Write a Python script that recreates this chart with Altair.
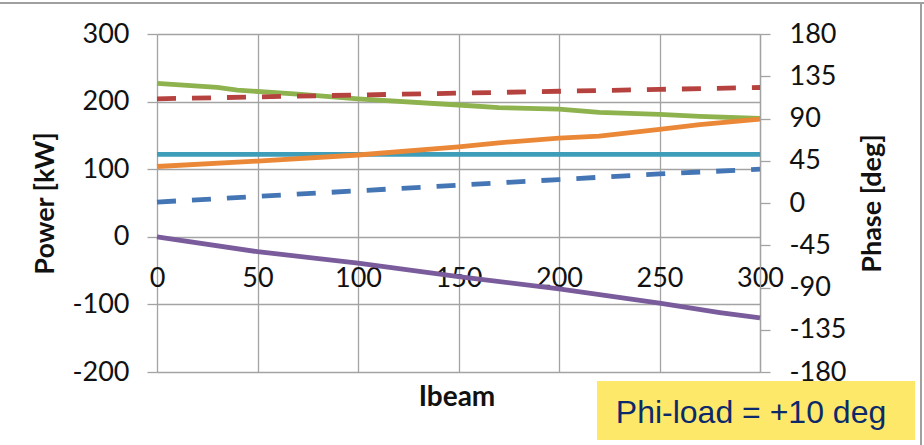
import altair as alt
import pandas as pd

# ---- data ----
ibeam_green = [0, 30, 40, 70, 100, 150, 170, 200, 220, 250, 270, 300]
power_green = [227, 221, 217, 211, 204, 195, 191, 189, 184, 181, 178, 175]

ibeam_orange = [0, 50, 100, 150, 170, 200, 220, 250, 270, 300]
power_orange = [104, 112, 121, 133, 139, 146, 149, 159, 166, 174]

ibeam_cyan = [0, 100, 200, 300]
power_cyan = [122, 122, 122, 122]

ibeam_purple = [0, 50, 100, 150, 200, 250, 280, 300]
power_purple = [0, -22, -39, -59, -77, -98, -112, -120]

ibeam_phase = [0, 50, 100, 150, 200, 250, 300]
phase_red = [111, 113, 115, 117, 119, 121, 123]
phase_blue = [1, 7, 13, 19, 25, 31, 36]

left_ticks = [-200, -100, 0, 100, 200, 300]
right_ticks = [-180, -135, -90, -45, 0, 45, 90, 135, 180]
x_ticks = [0, 50, 100, 150, 200, 250, 300]

series_names = ["P green", "P cyan", "P orange", "P purple", "Phi red", "Phi blue"]
series_colors = ["#8DB24E", "#3E9DB8", "#EA8838", "#7A5C9C", "#B5423E", "#4475B4"]

# ---- tables ----
rows = []
for name, xs, ys in [("P green", ibeam_green, power_green),
                     ("P cyan", ibeam_cyan, power_cyan),
                     ("P orange", ibeam_orange, power_orange),
                     ("P purple", ibeam_purple, power_purple)]:
    for i, (a, b) in enumerate(zip(xs, ys)):
        rows.append({"series": name, "Ibeam": a, "Power": b, "order": i})
power_df = pd.DataFrame(rows)

rows = []
for name, ys in [("Phi red", phase_red), ("Phi blue", phase_blue)]:
    for i, (a, b) in enumerate(zip(ibeam_phase, ys)):
        rows.append({"series": name, "Ibeam": a, "Phase": b, "order": i})
phase_df = pd.DataFrame(rows)

one = pd.DataFrame({"k": [0]})

FONT = "Lato"
GRID = "#A3A3A3"
LABEL_EXPR = "'' + datum.value"
color_scale = alt.Scale(domain=series_names, range=series_colors)

xscale = alt.Scale(domain=[0, 300], nice=False)
xaxis = alt.Axis(values=x_ticks, title=None, offset=-135, ticks=False,
                 domain=False, grid=True, gridColor=GRID, gridWidth=1.3,
                 labelFont=FONT, labelFontSize=27, labelColor="#111",
                 labelPadding=28, labelFlush=False, labelExpr=LABEL_EXPR)

left = alt.Chart(power_df).mark_line(strokeWidth=4.8).encode(
    x=alt.X("Ibeam:Q", scale=xscale, axis=xaxis),
    y=alt.Y("Power:Q", scale=alt.Scale(domain=[-200, 300], nice=False),
            axis=alt.Axis(values=left_ticks, title="Power [kW]", orient="left",
                          grid=True, gridColor=GRID, gridWidth=1.3,
                          domain=False, tickSize=10, tickColor=GRID, tickWidth=1.3,
                          labelFont=FONT, labelFontSize=27, labelColor="#111",
                          labelPadding=18, labelExpr=LABEL_EXPR,
                          titleFont=FONT, titleFontSize=27,
                          titleFontWeight="bold", titleColor="#111", titlePadding=12)),
    color=alt.Color("series:N", scale=color_scale, legend=None),
    detail="series:N",
    order="order:Q",
)

right = alt.Chart(phase_df).mark_line(strokeWidth=4.8, strokeDash=[19, 16]).encode(
    x=alt.X("Ibeam:Q", scale=xscale, axis=xaxis),
    y=alt.Y("Phase:Q", scale=alt.Scale(domain=[-180, 180], nice=False),
            axis=alt.Axis(values=right_ticks, title="Phase [deg]", orient="right",
                          grid=False, domain=True, domainColor=GRID, domainWidth=1.3,
                          tickSize=10, tickColor=GRID, tickWidth=1.3,
                          labelFont=FONT, labelFontSize=27, labelColor="#111",
                          labelPadding=19, labelExpr=LABEL_EXPR,
                          titleFont=FONT, titleFontSize=27,
                          titleFontWeight="bold", titleColor="#111", titlePadding=40,
                          titleAngle=270)),
    color=alt.Color("series:N", scale=color_scale, legend=None),
    detail="series:N",
    order="order:Q",
)

frame_top = alt.Chart(one).mark_rule(color="#A0A0A0", strokeWidth=2).encode(
    x=alt.value(-157), x2=alt.value(767), y=alt.value(-31))
frame_right = alt.Chart(one).mark_rule(color="#A0A0A0", strokeWidth=2).encode(
    x=alt.value(764), y=alt.value(-32), y2=alt.value(420))

xtitle = alt.Chart(one).mark_text(font=FONT, fontSize=28, fontWeight="bold", color="#111").encode(
    x=alt.value(300), y=alt.value(364), text=alt.value("Ibeam"))

box = alt.Chart(one).mark_rect(color="#FDE86A").encode(
    x=alt.value(440), x2=alt.value(758), y=alt.value(347), y2=alt.value(406))
box_text = alt.Chart(one).mark_text(font="Liberation Sans", fontSize=32, color="#0C2A6B",
                                    baseline="alphabetic").encode(
    x=alt.value(594), y=alt.value(389), text=alt.value("Phi-load = +10 deg"))

chart = alt.layer(frame_top, frame_right, left, right, xtitle, box, box_text).resolve_scale(
    y="independent"
).properties(
    width=603, height=338,
    autosize=alt.AutoSizeParams(type="none"),
    padding={"left": 157, "top": 34, "right": 164, "bottom": 73},
    background="white",
).configure_view(stroke=None)

chart.save("out.html", embed_options={"renderer": "svg", "actions": False})
